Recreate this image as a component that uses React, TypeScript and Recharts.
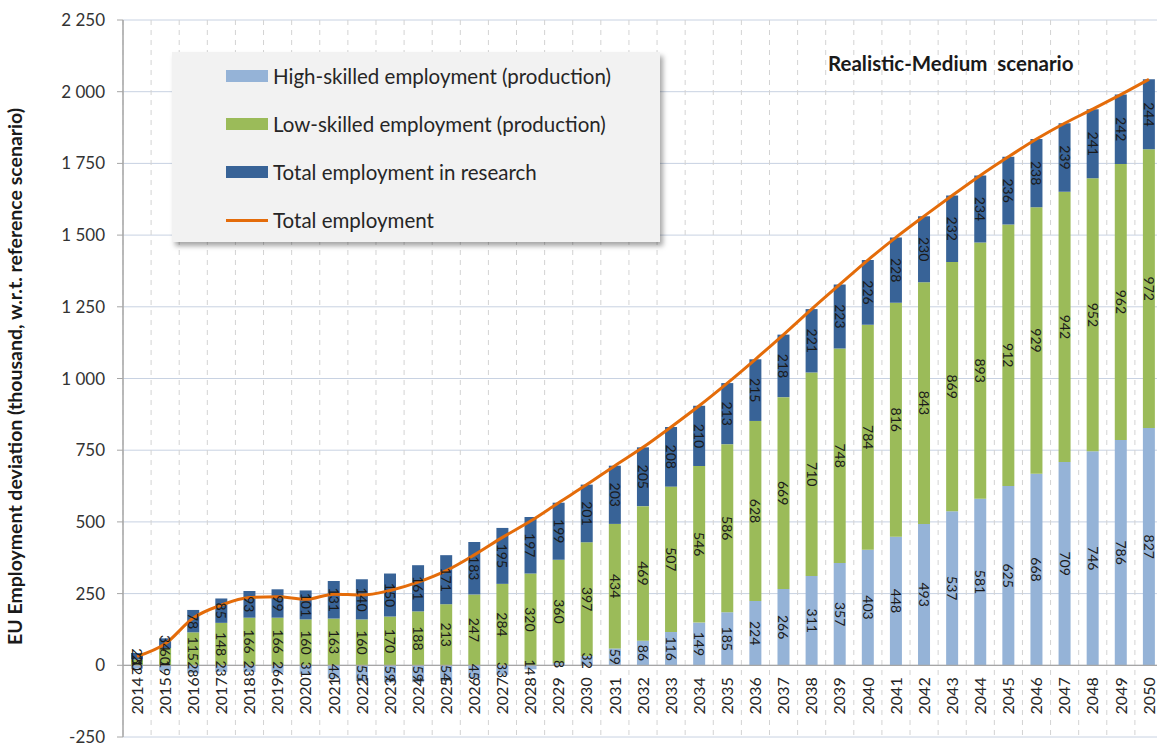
import React from 'react';
import {
  ComposedChart,
  Bar,
  Line,
  XAxis,
  YAxis,
  CartesianGrid,
  Legend,
  LabelList,
  ReferenceLine,
} from 'recharts';

const years = [
  '2014', '2015', '2016', '2017', '2018', '2019', '2020', '2021', '2022', '2023',
  '2024', '2025', '2026', '2027', '2028', '2029', '2030', '2031', '2032', '2033',
  '2034', '2035', '2036', '2037', '2038', '2039', '2040', '2041', '2042', '2043',
  '2044', '2045', '2046', '2047', '2048', '2049', '2050',
];

const highSkilled = [
  -12, -19, -28, -23, -23, -26, -31, -46, -55, -59, -59, -54, -45, -33, -14, 8, 32, 59, 86, 116,
  149, 185, 224, 266, 311, 357, 403, 448, 493, 537, 581, 625, 668, 709, 746, 786, 827,
];

const lowSkilled = [
  20, 60, 115, 148, 166, 166, 160, 163, 160, 170, 188, 213, 247, 284, 320, 360, 397, 434, 469, 507,
  546, 586, 628, 669, 710, 748, 784, 816, 843, 869, 893, 912, 929, 942, 952, 962, 972,
];

const research = [
  23, 34, 78, 85, 93, 99, 101, 131, 140, 150, 161, 171, 183, 195, 197, 199, 201, 203, 205, 208,
  210, 213, 215, 218, 221, 223, 226, 228, 230, 232, 234, 236, 238, 239, 241, 242, 244,
];

const totalEmployment = [
  31, 75, 165, 210, 236, 239, 230, 248, 245, 261, 290, 330, 385, 446, 503, 567, 630, 696, 760, 831,
  905, 984, 1067, 1153, 1242, 1328, 1413, 1492, 1566, 1638, 1708, 1773, 1835, 1890, 1939, 1990, 2043,
];

const yTicks = [-250, 0, 250, 500, 750, 1000, 1250, 1500, 1750, 2000, 2250];

const legendLabels = [
  'High-skilled employment (production)',
  'Low-skilled employment (production)',
  'Total employment in research',
  'Total employment',
];

const COLORS = {
  high: '#95b3d7',
  low: '#9bbb59',
  research: '#386397',
  total: '#e46c0a',
};

const FONT = 'Lato, "Liberation Sans", Arial, sans-serif';

const data = years.map((y, i) => ({
  year: y,
  high: highSkilled[i],
  low: lowSkilled[i],
  research: research[i],
  total: totalEmployment[i],
}));

const CHART_W = 1172;
const CHART_H = 746;
const M_TOP = 20;
const M_BOTTOM = 9;
const Y_MIN = yTicks[0];
const Y_MAX = yTicks[yTicks.length - 1];
const PLOT_H = CHART_H - M_TOP - M_BOTTOM;
const ZERO_Y = M_TOP + (PLOT_H * (Y_MAX - 0)) / (Y_MAX - Y_MIN);

const fmtThousands = (v: number) => {
  const a = Math.abs(v);
  if (a >= 1000) {
    return `${v < 0 ? '-' : ''}${Math.floor(a / 1000)} ${String(a % 1000).padStart(3, '0')}`;
  }
  return String(v);
};

const YearLabel = (props: any) => {
  const { x, width, value } = props;
  const cx = Number(x) + Number(width) / 2;
  const ty = ZERO_Y + 12;
  return (
    <text
      x={cx}
      y={ty}
      transform={`rotate(-90, ${cx}, ${ty})`}
      textAnchor="end"
      dy="0.36em"
      fontSize={16}
      fontFamily={FONT}
      fill="#262626"
    >
      {value}
    </text>
  );
};

const BarValueLabel = (props: any) => {
  const { x, y, width, height, value } = props;
  if (value === undefined || value === null) return null;
  const cx = Number(x) + Number(width) / 2;
  const cy = Number(y) + Number(height) / 2;
  return (
    <text
      x={cx}
      y={cy}
      transform={`rotate(90, ${cx}, ${cy})`}
      textAnchor="middle"
      dy="0.36em"
      fontSize={14}
      fontFamily={FONT}
      fill="#1a1a1a"
    >
      {Math.abs(Number(value))}
    </text>
  );
};

const YTitle = (props: any) => {
  const vb = props.viewBox || {};
  const cx = 15;
  const cy = (vb.y ?? 0) + (vb.height ?? 0) / 2 - 2;
  return (
    <text
      x={cx}
      y={cy}
      transform={`rotate(-90, ${cx}, ${cy})`}
      textAnchor="middle"
      dy="0.36em"
      fontSize={19.5}
      fontWeight="bold"
      fontFamily={FONT}
      fill="#1a1a1a"
    >
      EU Employment deviation (thousand, w.r.t. reference scenario)
    </text>
  );
};

const LegendBox = () => {
  const swatchColors = [COLORS.high, COLORS.low, COLORS.research, COLORS.total];
  return (
    <div
      style={{
        width: 488,
        height: 190,
        background: '#f2f2f2',
        boxShadow: '3px 4px 5px rgba(0,0,0,0.35)',
        boxSizing: 'border-box',
        paddingTop: 0,
        fontFamily: FONT,
      }}
    >
      {legendLabels.map((label, i) => (
        <div
          key={label}
          style={{ display: 'flex', alignItems: 'center', height: 48, paddingLeft: 54 }}
        >
          {i < 3 ? (
            <div style={{ width: 42, height: 12, background: swatchColors[i] }} />
          ) : (
            <div style={{ width: 42, height: 3, background: swatchColors[i] }} />
          )}
          <span style={{ marginLeft: 5, fontSize: 20.5, color: '#262626' }}>{label}</span>
        </div>
      ))}
    </div>
  );
};

export default function App() {
  return (
    <div
      style={{
        position: 'fixed',
        left: 0,
        top: 0,
        width: 1157,
        height: 746,
        overflow: 'hidden',
        background: '#ffffff',
      }}
    >
      <ComposedChart
        width={CHART_W}
        height={CHART_H}
        data={data}
        stackOffset="sign"
        margin={{ top: M_TOP, right: 9, bottom: M_BOTTOM, left: 0 }}
      >
        <CartesianGrid
          horizontal={true}
          vertical={false}
          stroke="#c8d2e2"
          strokeWidth={1}
        />
        <CartesianGrid
          horizontal={false}
          vertical={true}
          stroke="#d3d3d3"
          strokeDasharray="5 5"
          verticalCoordinatesGenerator={({ offset }: any) =>
            Array.from({ length: years.length + 1 }, (_, i) => offset.left + (i * offset.width) / years.length)
          }
        />
        <XAxis dataKey="year" height={0} axisLine={false} tickLine={false} tick={false} />
        <YAxis
          width={123}
          domain={[Y_MIN, Y_MAX]}
          ticks={yTicks}
          interval={0}
          allowDataOverflow
          tickFormatter={fmtThousands}
          axisLine={{ stroke: '#a6a6a6', strokeWidth: 1.5 }}
          tickLine={{ stroke: '#a6a6a6' }}
          tickSize={6}
          tickMargin={12}
          tick={{ fontSize: 17, fill: '#333333', fontFamily: FONT }}
          label={<YTitle />}
        />
        <ReferenceLine y={0} stroke="#a6a6a6" strokeWidth={1.2} />
        <Legend
          layout="vertical"
          align="center"
          verticalAlign="middle"
          content={<LegendBox />}
          wrapperStyle={{ position: 'absolute', left: 172, top: 52, width: 488, height: 190 }}
        />
        <Bar dataKey="high" stackId="s" fill={COLORS.high} barSize={12} isAnimationActive={false} name={legendLabels[0]}>
          <LabelList dataKey="high" content={<BarValueLabel />} />
          <LabelList dataKey="year" content={<YearLabel />} />
        </Bar>
        <Bar dataKey="low" stackId="s" fill={COLORS.low} barSize={12} isAnimationActive={false} name={legendLabels[1]}>
          <LabelList dataKey="low" content={<BarValueLabel />} />
        </Bar>
        <Bar dataKey="research" stackId="s" fill={COLORS.research} barSize={12} isAnimationActive={false} name={legendLabels[2]}>
          <LabelList dataKey="research" content={<BarValueLabel />} />
        </Bar>
        <Line
          type="monotone"
          dataKey="total"
          stroke={COLORS.total}
          strokeWidth={3}
          dot={false}
          isAnimationActive={false}
          name={legendLabels[3]}
        />
      </ComposedChart>
      <div
        style={{
          position: 'absolute',
          left: 828,
          top: 51,
          fontFamily: FONT,
          fontWeight: 'bold',
          fontSize: 20.5,
          color: '#1a1a1a',
          whiteSpace: 'nowrap',
        }}
      >
        Realistic-Medium&nbsp; scenario
      </div>
    </div>
  );
}
